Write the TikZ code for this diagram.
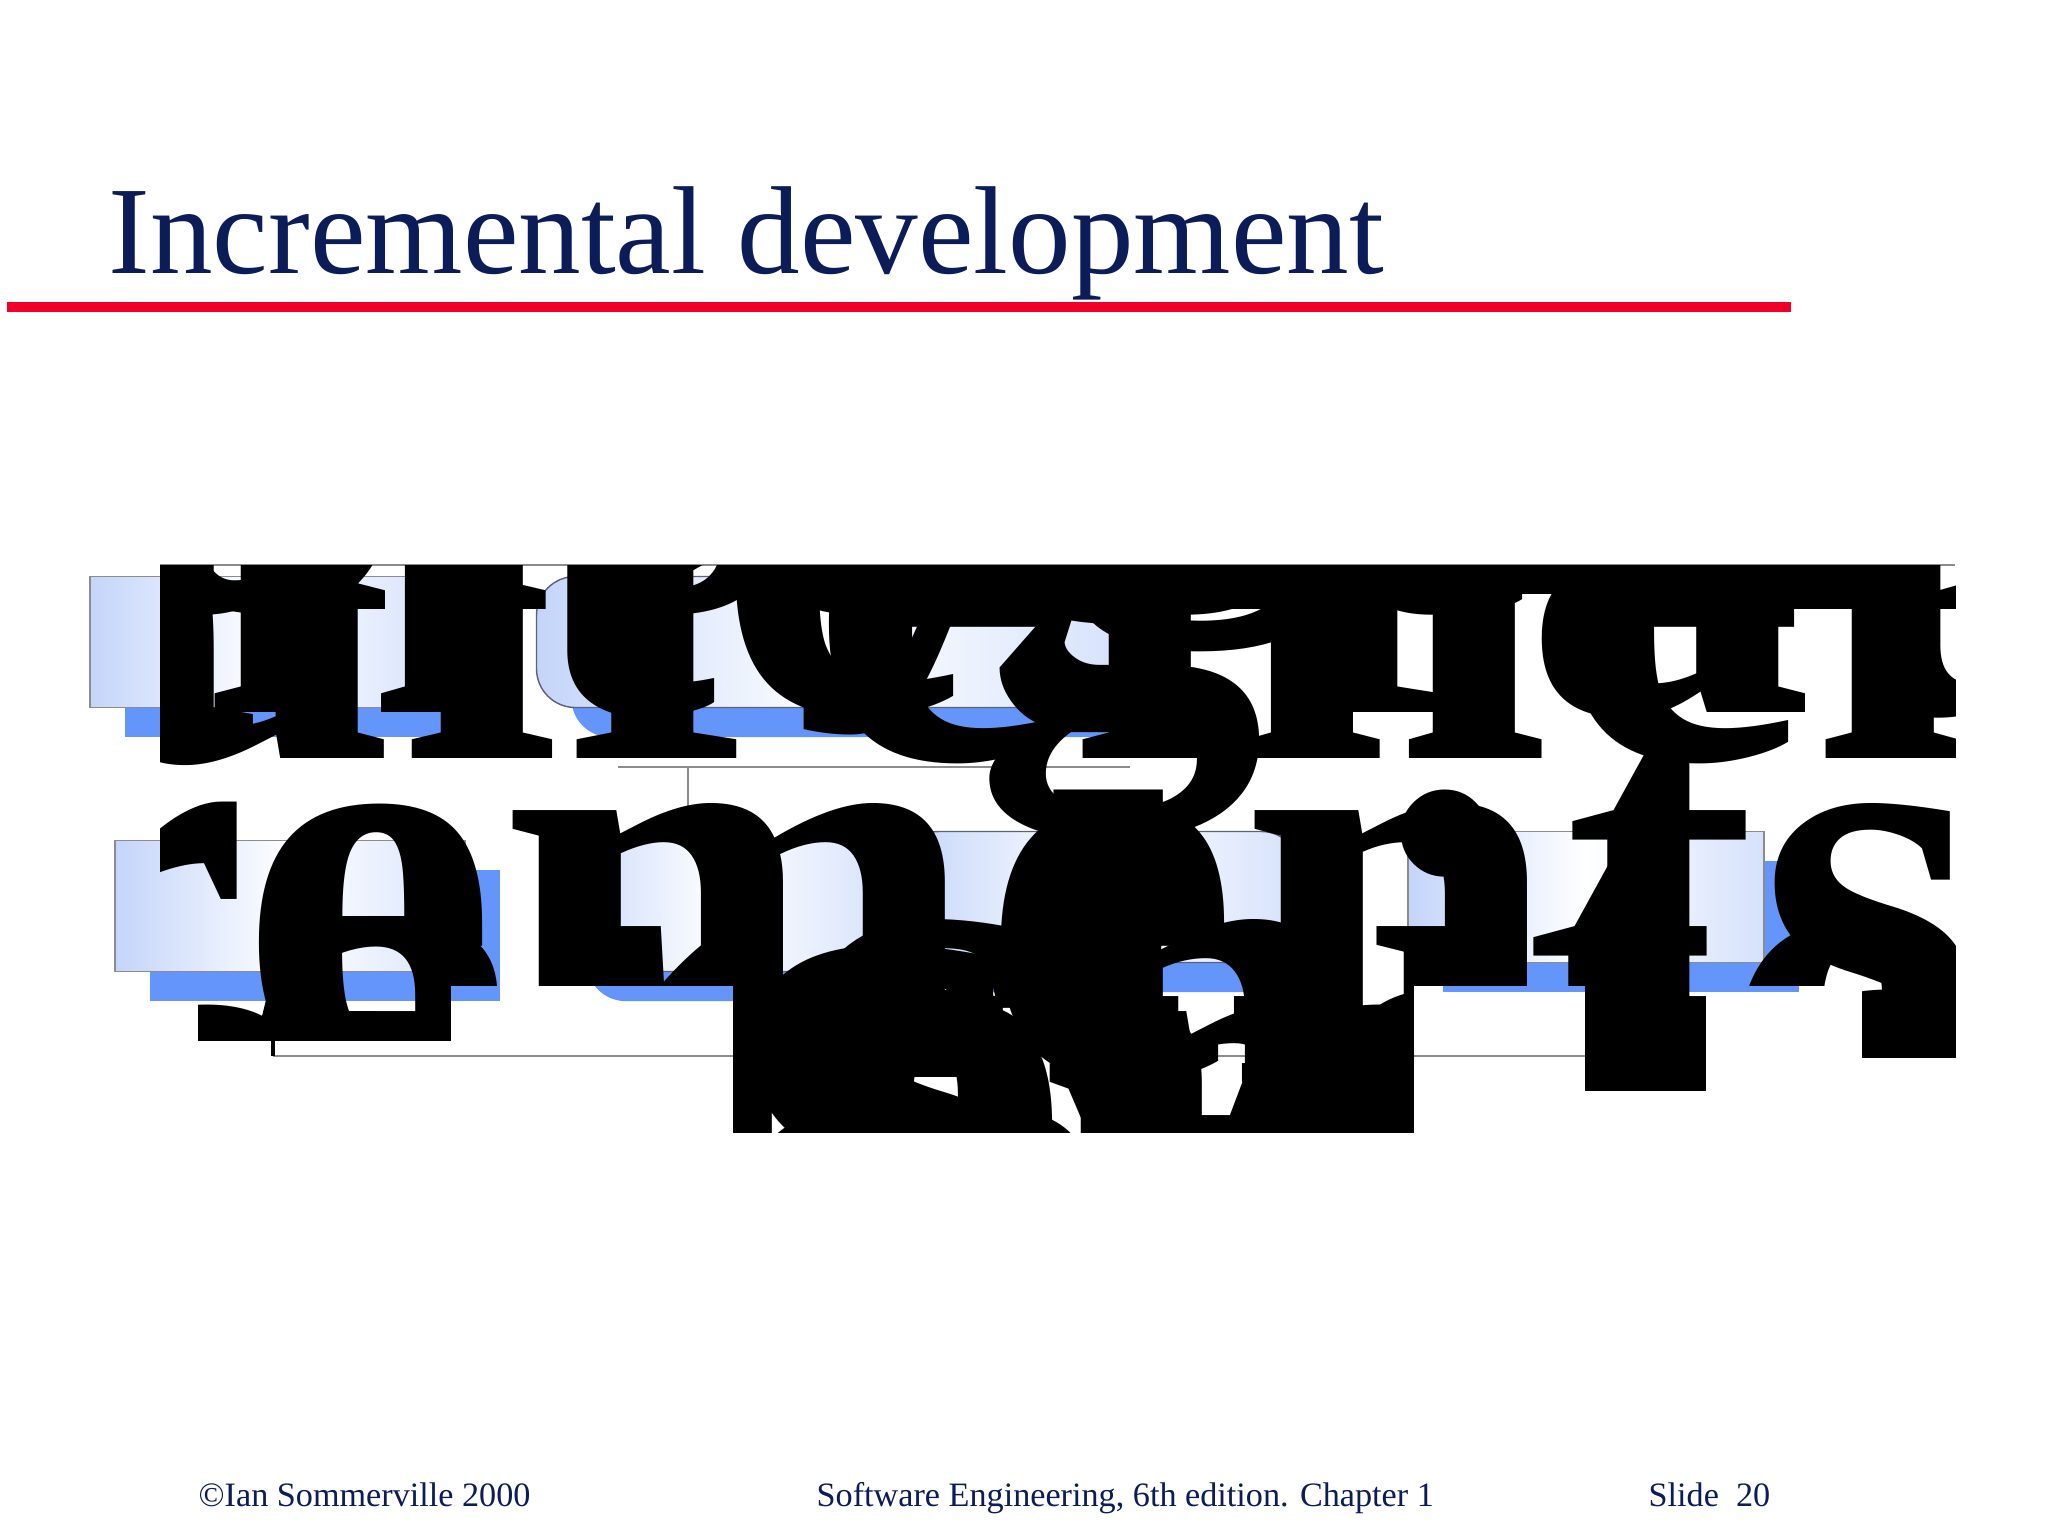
\documentclass[tikz,border=0pt]{standalone}
\usepackage{fontspec}
\setmainfont{Liberation Serif}
\usetikzlibrary{shadows,arrows.meta}
\definecolor{navy}{RGB}{12,28,88}
\definecolor{slidered}{RGB}{240,0,40}
\definecolor{boxblue}{RGB}{196,213,250}
\definecolor{shadowblue}{RGB}{100,149,250}
\definecolor{linegray}{RGB}{140,140,140}
\definecolor{edgegray}{RGB}{90,98,115}
\tikzset{
  procbox/.style={draw=linegray, line width=0.4pt, left color=boxblue, right color=boxblue!70, middle color=white,
    inner sep=0pt, minimum width=350*0.2837pt, minimum height=131*0.2837pt,
    drop shadow={shadow xshift=9.9pt, shadow yshift=-8.4pt, fill=shadowblue, opacity=1}},
  roundbox/.style={procbox, draw=edgegray, rounded corners=11pt},
  biglabel/.style={font=\bfseries\fontsize{165}{190}\selectfont, text=black, align=center, inner sep=0pt},
  thinline/.style={draw=linegray, line width=0.5pt},
  loopline/.style={draw=black, line width=1.2pt},
  titletext/.style={font=\fontsize{35.5}{40}\selectfont, text=navy, inner sep=0pt, anchor=base west},
  foottext/.style={font=\fontsize{9.7}{11}\selectfont, text=navy, inner sep=0pt, anchor=base west}
}
\begin{document}
\begin{tikzpicture}[x=0.2837pt, y=-0.2837pt]
\useasboundingbox (0,0) rectangle (2048,1537);
\fill[white] (0,0) rectangle (2048,1537);
% title and rule
\node[titletext] (title) at (108,273) {Incremental development};
\coordinate (ruleL) at (7,307);
\coordinate (ruleR) at (1791,307);
\draw[slidered, line width=3.1pt] (ruleL) -- (ruleR);
% boxes
\node[procbox] (top1) at (265,642) {};
\node[roundbox, minimum width=593*0.2837pt] (top2) at (833,642) {};
\node[procbox] (bot1) at (290,906) {};
\node[roundbox, minimum width=340*0.2837pt] (bot2) at (722,906) {};
\node[roundbox, minimum width=400*0.2837pt] (bot3) at (1100,897) {};
\node[procbox, minimum width=356*0.2837pt] (bot4) at (1586,897) {};
% connectors
\coordinate (c1) at (618,767);
\coordinate (c2) at (1130,767);
\coordinate (c3) at (688,767);
\draw[thinline] (c1) -- (c2);
\draw[thinline] (c3) -- (c3 |- bot2.north);
\coordinate (lpR) at (1590,1056);
\coordinate (lpL) at (273,1056);
\draw[loopline] (lpR |- bot4.south) -- (lpR);
\draw[thinline] (lpR) -- (lpL);
\draw[loopline, -{Stealth[length=18pt, width=9pt, inset=5pt]}] (lpL) -- (lpL |- bot1.south);
% giant labels
\draw[linegray, line width=0.5pt] (160,565) -- (1955,565);
\begin{scope}
\clip (160,565) -- (1955,565) -- (1955,1057) -- (1862,1057) -- (1862,985) -- (1705,985) -- (1705,1090)
  -- (1585,1090) -- (1585,985) -- (1413,985) -- (1413,1132) -- (733,1132) -- (733,985) -- (450,985)
  -- (450,1040) -- (198,1040) -- (198,985) -- (160,985) -- cycle;
\node[biglabel] (l1) at (330,600) {Define outline\\requirements};
\node[biglabel] (l2) at (900,560) {Assign\\requirements\\to increments};
\node[biglabel] (l3) at (1750,660) {Design system\\architecture};
\node[biglabel] (l4) at (330,745) {Develop system\\increment};
\node[biglabel] (l5) at (760,745) {Validate\\increment};
\node[biglabel] (l6) at (1120,860) {Integrate\\increment};
\node[biglabel] (l7) at (1650,790) {Validate\\system};
\node[biglabel, anchor=base west] (l8) at (720,1330) {System incomplete};
\end{scope}
% footer
\node[foottext] (f1) at (198,1506) {©Ian Sommerville 2000};
\node[foottext] (f2) at (816,1506) {Software Engineering, 6th edition. Chapter 1};
\node[foottext] (f3) at (1648,1506) {Slide\ \ 20};
\end{tikzpicture}
\end{document}
